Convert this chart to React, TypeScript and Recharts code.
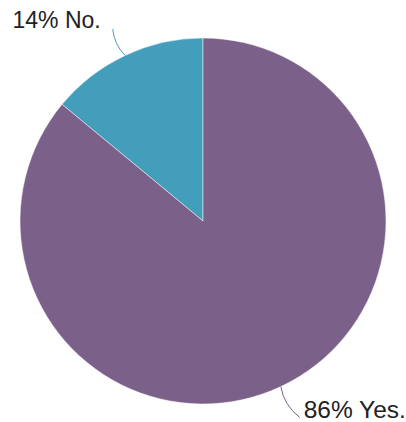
import React from 'react';
import { PieChart, Pie, Cell } from 'recharts';

const answers = ['No.', 'Yes.'];
const shares = [14, 86];
const colors = ['#439EBB', '#7B618A'];

const data = answers.map((name, i) => ({ name, value: shares[i] }));

const RAD = Math.PI / 180;

const renderLabel = (props: any) => {
  const { cx, cy, midAngle, outerRadius, index } = props;
  const left = index === 0;
  const cos = Math.cos(-midAngle * RAD);
  const sin = Math.sin(-midAngle * RAD);
  const sx = cx + outerRadius * cos;
  const sy = cy + outerRadius * sin;
  // leader ends a little past the rim, with a slight bend
  const er = outerRadius + (left ? 29 : 36);
  const endAngle = -midAngle + (left ? 0 : -1);
  const ex = cx + er * Math.cos(endAngle * RAD);
  const ey = cy + er * Math.sin(endAngle * RAD);
  const mr = outerRadius + er * 0 + (er - outerRadius) / 2;
  const bend = left ? -1.5 : 1.5;
  const mx = cx + mr * Math.cos((-midAngle + bend) * RAD);
  const my = cy + mr * Math.sin((-midAngle + bend) * RAD);
  return (
    <g>
      <path
        d={`M${sx},${sy} Q${mx},${my} ${ex},${ey}`}
        stroke={colors[index]}
        strokeWidth={1}
        fill="none"
      />
      <text
        x={left ? ex - 12 : ex + 4}
        y={left ? ey - 9 : ey - 8}
        textAnchor={left ? 'end' : 'start'}
        dominantBaseline="central"
        fontFamily="'Liberation Sans', Arial, sans-serif"
        fontSize={left ? 23 : 24.5}
        fill="#222"
      >
        {`${shares[index]}% ${answers[index]}`}
      </text>
    </g>
  );
};

export default function App() {
  return (
    <div style={{ position: 'absolute', left: 0, top: 0, background: '#fff' }}>
      <PieChart width={406} height={422} margin={{ top: 0, right: 0, bottom: 0, left: 0 }}>
        <Pie
          data={data}
          dataKey="value"
          nameKey="name"
          cx={203}
          cy={221}
          outerRadius={183}
          startAngle={90}
          endAngle={450}
          stroke="#fff"
          strokeWidth={0.5}
          label={renderLabel}
          labelLine={false}
          isAnimationActive={false}
        >
          {data.map((d, i) => (
            <Cell key={d.name} fill={colors[i]} />
          ))}
        </Pie>
      </PieChart>
    </div>
  );
}
